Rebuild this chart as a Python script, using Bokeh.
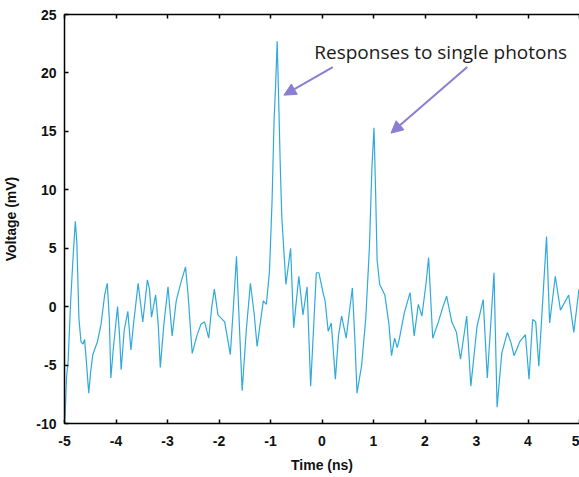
from bokeh.plotting import figure
from bokeh.models import LinearAxis, Label, Arrow, NormalHead, FixedTicker, Range1d, PrintfTickFormatter
from bokeh.embed import file_html
from bokeh.resources import INLINE

# Oscilloscope trace
time_ns = [-5.00, -4.99, -4.96, -4.93, -4.88, -4.83, -4.79, -4.76, -4.72, -4.68,
           -4.64, -4.61, -4.57, -4.53, -4.49, -4.45, -4.36, -4.29, -4.22, -4.17,
           -4.13, -4.10, -4.05, -3.97, -3.93, -3.90, -3.84, -3.77, -3.71, -3.66,
           -3.57, -3.48, -3.39, -3.35, -3.31, -3.23, -3.18, -3.14, -3.07, -2.99,
           -2.91, -2.83, -2.75, -2.65, -2.60, -2.52, -2.43, -2.35, -2.28, -2.20,
           -2.14, -2.09, -2.02, -1.89, -1.78, -1.72, -1.66, -1.61, -1.55, -1.47,
           -1.39, -1.32, -1.26, -1.14, -1.08, -1.02, -0.97, -0.93, -0.90, -0.87,
           -0.84, -0.81, -0.78, -0.70, -0.61, -0.55, -0.45, -0.37, -0.29, -0.22,
           -0.11, -0.06, 0.02, 0.06, 0.12, 0.18, 0.26, 0.32, 0.38, 0.47,
           0.53, 0.59, 0.64, 0.68, 0.77, 0.85, 0.92, 0.97, 1.01, 1.04,
           1.07, 1.12, 1.22, 1.30, 1.35, 1.41, 1.46, 1.50, 1.60, 1.71,
           1.79, 1.87, 1.94, 2.02, 2.07, 2.15, 2.26, 2.35, 2.42, 2.52,
           2.61, 2.69, 2.81, 2.89, 3.01, 3.13, 3.21, 3.34, 3.40, 3.49,
           3.60, 3.67, 3.73, 3.84, 3.95, 4.02, 4.09, 4.15, 4.21, 4.36,
           4.42, 4.53, 4.63, 4.79, 4.89, 4.99]
voltage_mv = [-8.5, -9.6, -6.0, -4.7, 0.5, 4.5, 7.3, 5.5, -1.0, -3.0,
              -3.2, -2.8, -5.0, -7.4, -5.5, -4.1, -3.0, -1.5, 1.0, 2.0,
              -1.0, -6.1, -3.5, 0.0, -2.5, -5.4, -2.0, -0.4, -3.7, -1.5,
              2.0, -1.3, 2.3, 1.5, -0.9, 1.0, -1.5, -5.2, -1.5, 1.7,
              -2.5, 0.5, 1.9, 3.4, 1.0, -4.0, -2.5, -1.5, -1.3, -2.7,
              0.0, 1.5, -0.7, -1.3, -4.1, 0.0, 4.3, -1.0, -7.2, -2.0,
              2.0, -0.5, -3.4, 0.5, 0.2, 3.0, 9.0, 16.0, 19.0, 22.7,
              17.5, 12.0, 7.6, 1.9, 5.0, -1.8, 2.6, -0.7, 1.7, -6.8,
              2.9, 2.9, 1.2, 0.5, -2.1, -1.4, -6.2, -2.5, -0.8, -2.7,
              -0.5, 1.6, -3.0, -7.4, -5.0, -1.0, 5.0, 12.0, 15.3, 10.0,
              4.0, 1.9, 1.0, -1.5, -4.2, -2.7, -3.5, -2.8, -0.5, 1.2,
              -2.5, 0.2, -0.8, 2.0, 4.2, -2.7, -1.3, 0.0, 0.9, -1.3,
              -2.2, -4.5, -0.8, -6.8, -1.7, 0.6, -6.1, 2.9, -8.6, -4.0,
              -2.2, -3.1, -4.2, -3.0, -2.4, -6.2, -1.1, -1.3, -5.1, 6.0,
              -1.4, 2.6, -0.3, 1.0, -2.2, 1.5]

x_ticks = [-5, -4, -3, -2, -1, 0, 1, 2, 3, 4, 5]
y_ticks = [-10, -5, 0, 5, 10, 15, 20, 25]
annotation_text = "Responses to single photons"

p = figure(width=579, height=477, output_backend="svg", toolbar_location=None,
           x_range=Range1d(-5, 5), y_range=Range1d(-10, 25),
           min_border_left=63, min_border_right=0, min_border_top=14,
           min_border_bottom=54)
p.outline_line_color = None
p.grid.grid_line_color = None
p.background_fill_color = "white"
p.border_fill_color = "white"

p.line(time_ns, voltage_mv, line_color="#2eaadc", line_width=1.2)

font = "Liberation Sans"
for ax in [p.xaxis[0], p.yaxis[0]]:
    ax.axis_line_color = "black"
    ax.axis_line_width = 1.5
    ax.major_tick_in = 4
    ax.major_tick_out = 0
    ax.major_tick_line_width = 1.5
    ax.minor_tick_line_color = None
    ax.formatter = PrintfTickFormatter(format="%d")
    ax.major_label_text_font = font
    ax.major_label_text_font_style = "bold"
    ax.major_label_text_font_size = "14px"
    ax.major_label_text_color = "#111111"
    ax.axis_label_text_font = font
    ax.axis_label_text_font_style = "bold"
    ax.axis_label_text_font_size = "14px"
    ax.axis_label_text_color = "#111111"

p.xaxis[0].ticker = FixedTicker(ticks=x_ticks)
p.yaxis[0].ticker = FixedTicker(ticks=y_ticks)
p.xaxis[0].axis_label = "Time (ns)"
p.yaxis[0].axis_label = "Voltage (mV)"
p.xaxis[0].major_label_standoff = 12
p.xaxis[0].axis_label_standoff = 8
p.yaxis[0].major_label_standoff = 8
p.yaxis[0].axis_label_standoff = 14

top = LinearAxis(ticker=FixedTicker(ticks=x_ticks))
top.axis_line_color = "black"
top.axis_line_width = 1.5
top.major_tick_in = 4
top.major_tick_out = 0
top.major_tick_line_width = 1.5
top.minor_tick_line_color = None
top.major_label_text_font_size = "1px"
top.major_label_text_alpha = 0
top.major_label_standoff = 0
p.add_layout(top, "above")

p.add_layout(Label(x=-0.15, y=21.8, text=annotation_text,
                   text_font="Open Sans", text_font_size="19px",
                   text_color="#1a1a1a", text_baseline="alphabetic"))

arrow_color = "#8a7dd4"
for (x0, y0, x1, y1) in [(0.21, 20.5, -0.74, 18.1), (2.82, 20.5, 1.34, 14.85)]:
    p.add_layout(Arrow(x_start=x0, y_start=y0, x_end=x1, y_end=y1,
                       line_color=arrow_color, line_width=2,
                       end=NormalHead(size=12, fill_color=arrow_color,
                                      line_color=arrow_color)))

open("out.html", "w").write(file_html(p, INLINE))
